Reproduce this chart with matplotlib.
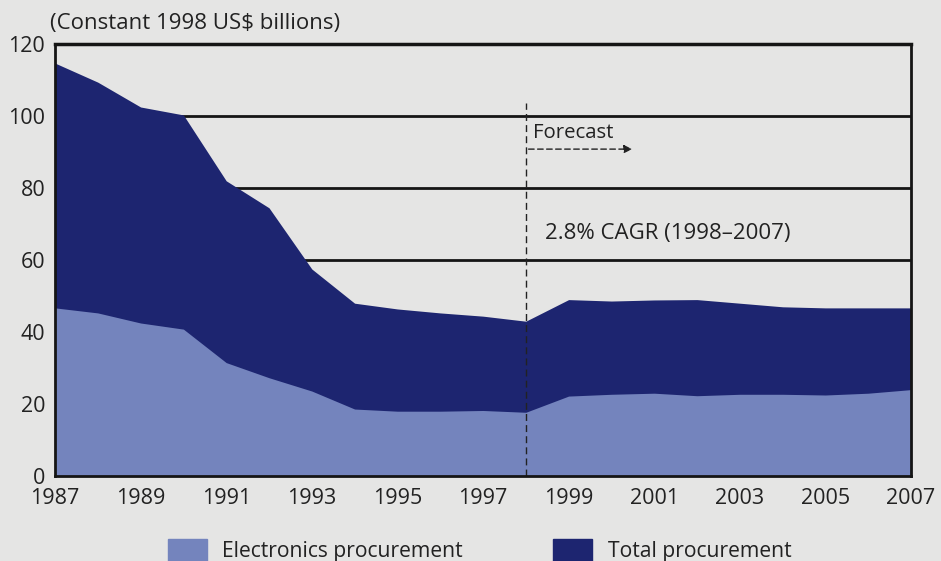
import matplotlib.pyplot as plt
import matplotlib.patches as mpatches

plt.rcParams['font.family'] = ['Open Sans', 'DejaVu Sans']

years = list(range(1987, 2008))
total = [114.7, 109.4, 102.5, 100.3, 82.0, 74.5, 57.5, 48.0, 46.4, 45.3, 44.4, 43.0,
         49.0, 48.6, 48.9, 49.0, 48.0, 47.0, 46.7, 46.7, 46.7]
electronics = [46.7, 45.3, 42.5, 40.8, 31.5, 27.3, 23.6, 18.6, 18.0, 18.0, 18.2, 17.7,
               22.2, 22.7, 23.0, 22.3, 22.7, 22.7, 22.5, 23.0, 24.0]
y_ticks = [0, 20, 40, 60, 80, 100, 120]
x_ticks = list(range(1987, 2008, 2))
grid_levels = [60, 80, 100]
forecast_start = 1998
series_names = ['Electronics procurement', 'Total procurement']

bg = '#e5e5e4'
dark = '#1d2570'
light = '#7484bd'
ink = '#222222'

W, H = 941, 561
fig = plt.figure(figsize=(W / 100, H / 100), dpi=100, facecolor=bg)
ax = fig.add_axes([55 / W, 1 - 476 / H, (911 - 55) / W, (476 - 44) / H], facecolor=bg)

for lv in grid_levels:
    ax.axhline(lv, color='#151515', lw=2, zorder=1)

ax.fill_between(years, 0, total, color=dark, lw=0, zorder=2)
ax.fill_between(years, 0, electronics, color=light, lw=0, zorder=3)

# forecast divider and arrow
ax.plot([forecast_start, forecast_start], [0, 103.6], color=ink, lw=1,
        ls=(0, (5, 3)), zorder=4)
ax.annotate('', xy=(2000.55, 90.8), xytext=(forecast_start, 90.8),
            arrowprops=dict(arrowstyle='-|>', color=ink, lw=1,
                            ls=(0, (4, 2.5)), mutation_scale=12), zorder=5)
ax.text(forecast_start + 0.17, 95.3, 'Forecast', fontsize=14.7, color=ink,
        va='center', ha='left', zorder=5)
ax.text(forecast_start + 0.45, 67.5, '2.8% CAGR (1998\u20132007)', fontsize=16,
        color=ink, va='center', ha='left', zorder=5)

ax.set_xlim(1987, 2007)
ax.set_ylim(0, 120)
ax.set_xticks(x_ticks)
ax.set_yticks(y_ticks)
ax.tick_params(length=0, labelsize=15.5, colors=ink)
ax.tick_params(axis='y', pad=7)
ax.tick_params(axis='x', pad=9)
for s in ax.spines.values():
    s.set_linewidth(2)
    s.set_color('#151515')
    s.set_zorder(6)
ax.spines['top'].set_linewidth(2.5)

fig.text(50 / W, 1 - 24 / H, '(Constant 1998 US$ billions)', fontsize=16,
         color=ink, ha='left', va='center')

# legend drawn by hand along the bottom edge
for (x0, tx), name, col in zip([(168, 222), (553, 608)], series_names, [light, dark]):
    fig.patches.append(mpatches.Rectangle((x0 / W, 1 - 564 / H), 39 / W, 25 / H,
                                          transform=fig.transFigure, color=col))
    fig.text(tx / W, 1 - 551 / H, name, fontsize=15.2, color=ink,
             ha='left', va='center')

fig.savefig('out.png', dpi=100, facecolor=bg)
